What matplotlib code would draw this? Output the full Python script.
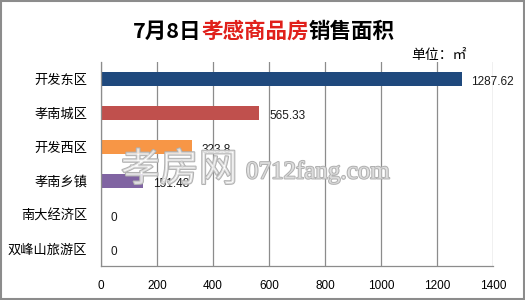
"""
孝感商品房销售面积 horizontal bar chart
"""

import matplotlib
matplotlib.use("Agg")
import matplotlib.pyplot as plt
import matplotlib.patheffects as pe
from matplotlib.patches import Rectangle

CJK = ["Noto Sans CJK SC", "DejaVu Sans"]

districts = ["开发东区", "孝南城区", "开发西区", "孝南乡镇", "南大经济区", "双峰山旅游区"]
areas = [1287.62, 565.33, 323.8, 151.48, 0, 0]
area_labels = ["1287.62", "565.33", "323.8", "151.48", "0", "0"]
bar_colors = ["#1F497D", "#C0504D", "#F79646", "#8064A2", "#4F81BD", "#9BBB59"]
x_ticks = [0, 200, 400, 600, 800, 1000, 1200, 1400]

W, H = 525, 300
fig = plt.figure(figsize=(W / 100, H / 100), dpi=100)
ax = fig.add_axes([101 / W, 1 - 266 / H, 392 / W, 204 / H])

ypos = list(range(len(districts)))
ax.barh(ypos, areas, height=0.41, color=bar_colors, zorder=2)
ax.set_ylim(len(districts) - 0.5, -0.5)
ax.set_xlim(0, 1400)
ax.set_xticks(x_ticks)
ax.set_xticklabels([str(t) for t in x_ticks], family="Liberation Sans", fontsize=8.5)
ax.set_yticks(ypos)
ax.set_yticklabels(districts, family=CJK, fontsize=9.5)
ax.tick_params(axis="y", length=0, pad=10)
ax.tick_params(axis="x", length=0, pad=10)
ax.grid(axis="x", color="#8c8c8c", linewidth=0.9, zorder=1)
for s in ["top", "right"]:
    ax.spines[s].set_visible(False)
for s in ["left", "bottom"]:
    ax.spines[s].set_color("#8c8c8c")
    ax.spines[s].set_linewidth(0.9)

for y, v, lab in zip(ypos, areas, area_labels):
    ax.annotate(lab, (v, y), xytext=(7, -2), textcoords="offset points",
                ha="left", va="center", family="Liberation Sans", fontsize=8.5,
                color="#1a1a1a", zorder=3)

# title in three coloured parts
renderer = fig.canvas.get_renderer()
parts = [("7月8日", "black"), ("孝感商品房", "#E0201B"), ("销售面积", "black")]
x = 133 / W
for txt, col in parts:
    t = fig.text(x, 1 - 31 / H, txt, color=col, fontsize=15.5, fontweight="bold",
                 family=CJK, ha="left", va="center")
    bb = t.get_window_extent(renderer=renderer)
    x += bb.width / W

fig.text(411 / W, 1 - 55 / H, "单位：㎡", family=CJK, fontsize=10, ha="left", va="center")

# watermark
wm = [pe.Stroke(linewidth=1.4, foreground="#b0b0b0"), pe.Normal()]
fig.text(121 / W, 1 - 170 / H, "孝房网", family=CJK, fontsize=28, color=(1, 1, 1, 0.55),
         ha="left", va="center", path_effects=wm)
fig.text(246 / W, 1 - 172 / H, "0712fang.com", family="Liberation Serif", fontsize=18,
         color=(1, 1, 1, 0.55), ha="left", va="center", path_effects=wm)

fig.patches.append(Rectangle((0.001, 0.002), 0.997, 0.995, transform=fig.transFigure,
                             fill=False, edgecolor="#8c8c8c", linewidth=1.5))

fig.savefig("out.png", dpi=100)
